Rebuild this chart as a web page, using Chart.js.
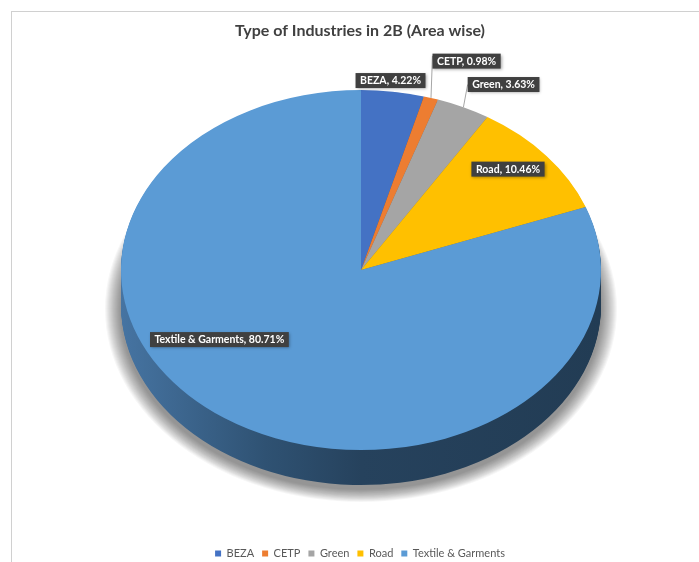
<!DOCTYPE html>
<html>
<head>
<meta charset="utf-8">
<script src="https://cdn.jsdelivr.net/npm/chart.js@4.4.1/dist/chart.umd.min.js"></script>
<style>
  html, body { margin: 0; padding: 0; background: #fff; }
  #wrap { position: relative; width: 699px; height: 562px; overflow: hidden; }
  #wrap canvas { position: absolute; left: 0; top: 0; }
  #frame {
    position: absolute; left: 11px; top: 11px; right: 0; bottom: 0;
    border-top: 1.5px solid #d0d0d0; border-left: 1.5px solid #d0d0d0;
    pointer-events: none;
  }
</style>
</head>
<body>
<div id="wrap">
  <canvas id="chart" width="699" height="562"></canvas>
  <div id="frame"></div>
</div>
<script>
// data
const categories = ["BEZA", "CETP", "Green", "Road", "Textile & Garments"];
const areaShare = [4.22, 0.98, 3.63, 10.46, 80.71];
const sliceColors = ["#4472c4", "#ed7d31", "#a5a5a5", "#ffc000", "#5b9bd5"];
const sideColors = ["#2b4c86", "#a3541f", "#707070", "#a87e00", "#243f58"];

// where each data label sits, as fractions of the pie radius from the centre
const labelSpots = [
  { fx: 0.123, fy: -1.053 },
  { fx: 0.44, fy: -1.161, leader: 0.15 },
  { fx: 0.594, fy: -1.031, leader: 0.5 },
  { fx: 0.6125, fy: -0.561 },
  { fx: -0.59, fy: 0.386 }
];

function pieGeom(chart, opts) {
  const arcs = chart.getDatasetMeta(0).data;
  const a = arcs[0];
  return {
    arcs: arcs,
    ox: a.x, oy: a.y,
    cx: a.x + opts.shiftX, cy: a.y + opts.shiftY,
    r: a.outerRadius
  };
}

function toFace(ctx, g, opts, dy) {
  ctx.translate(g.cx, g.cy + dy);
  ctx.scale(1, opts.tilt);
  ctx.translate(-g.ox, -g.oy);
}

function arcPath(ctx, el) {
  ctx.beginPath();
  ctx.moveTo(el.x, el.y);
  ctx.arc(el.x, el.y, el.outerRadius, el.startAngle, el.endAngle);
  ctx.closePath();
}

// fake 3D: flatten the pie into an ellipse and stack a darker side under it
const pie3d = {
  id: "pie3d",
  beforeDatasetsDraw(chart, args, opts) {
    const ctx = chart.ctx;
    const g = pieGeom(chart, opts);
    const ry = g.r * opts.tilt;

    // soft gray shadow round the base: widening rings, lighter outward
    ctx.save();
    for (let s = 16; s >= 1; s--) {
      ctx.fillStyle = "rgba(0,0,0,0.035)";
      ctx.beginPath();
      ctx.ellipse(g.cx, g.cy + opts.depth + 4, g.r + s, ry + s * 0.8, 0, 0, Math.PI * 2);
      ctx.fill();
    }
    ctx.restore();

    for (let dy = opts.depth; dy >= 1; dy--) {
      ctx.save();
      toFace(ctx, g, opts, dy);
      g.arcs.forEach((el, i) => {
        let fill = sideColors[i];
        if (i === g.arcs.length - 1) {
          const grad = ctx.createLinearGradient(g.ox - g.r, 0, g.ox + g.r, 0);
          grad.addColorStop(0, "#4674a2");
          grad.addColorStop(0.3, "#2f5273");
          grad.addColorStop(0.5, "#26425d");
          grad.addColorStop(1, "#223c54");
          fill = grad;
        }
        arcPath(ctx, el);
        ctx.fillStyle = fill;
        ctx.fill();
      });
      ctx.restore();
    }

    ctx.save();
    toFace(ctx, g, opts, 0);
  },
  afterDatasetsDraw(chart, args, opts) {
    const ctx = chart.ctx;
    ctx.restore();
    const g = pieGeom(chart, opts);
    const ry = g.r * opts.tilt;

    ctx.save();
    ctx.font = "bold 10.5px Lato, 'Open Sans', sans-serif";
    ctx.textBaseline = "middle";
    ctx.textAlign = "center";
    g.arcs.forEach((el, i) => {
      const spot = labelSpots[i];
      const text = categories[i] + ", " + areaShare[i].toFixed(2) + "%";
      const w = ctx.measureText(text).width + 9;
      const h = 15;
      const x = g.cx + spot.fx * g.r;
      const y = g.cy + spot.fy * ry;

      if (spot.leader !== undefined) {
        const mid = (el.startAngle + el.endAngle) / 2;
        ctx.beginPath();
        ctx.moveTo(g.cx + g.r * Math.cos(mid), g.cy + ry * Math.sin(mid));
        ctx.lineTo(x - w / 2, y - h / 2 + h * spot.leader);
        ctx.strokeStyle = "#a6a6a6";
        ctx.lineWidth = 1;
        ctx.stroke();
      }

      ctx.save();
      ctx.shadowColor = "rgba(0,0,0,0.35)";
      ctx.shadowBlur = 3;
      ctx.shadowOffsetX = 1;
      ctx.shadowOffsetY = 1;
      ctx.fillStyle = "#404040";
      ctx.fillRect(x - w / 2, y - h / 2, w, h);
      ctx.restore();
      ctx.fillStyle = "#ffffff";
      ctx.fillText(text, x, y + 0.5);
    });
    ctx.restore();
  }
};

const chart = new Chart(document.getElementById("chart"), {
  type: "pie",
  data: {
    labels: categories,
    datasets: [{
      data: areaShare,
      backgroundColor: sliceColors,
      borderWidth: 0,
      radius: 240,
      clip: false
    }]
  },
  options: {
    responsive: false,
    animation: false,
    events: [],
    layout: { padding: { left: 21, top: 11, right: 0, bottom: -7 } },
    plugins: {
      pie3d: { tilt: 0.75, depth: 35, shiftX: 1, shiftY: -24 },
      title: {
        display: true,
        text: "Type of Industries in 2B (Area wise)",
        color: "#404040",
        font: { family: "Lato, 'Open Sans', sans-serif", size: 16, weight: "bold" },
        padding: { top: 10, bottom: 8 }
      },
      legend: {
        position: "bottom",
        labels: {
          color: "#595959",
          font: { family: "Lato, 'Open Sans', sans-serif", size: 11 },
          boxWidth: 6,
          boxHeight: 6,
          padding: 8
        }
      },
      tooltip: { enabled: false }
    }
  },
  plugins: [pie3d]
});
</script>
</body>
</html>
